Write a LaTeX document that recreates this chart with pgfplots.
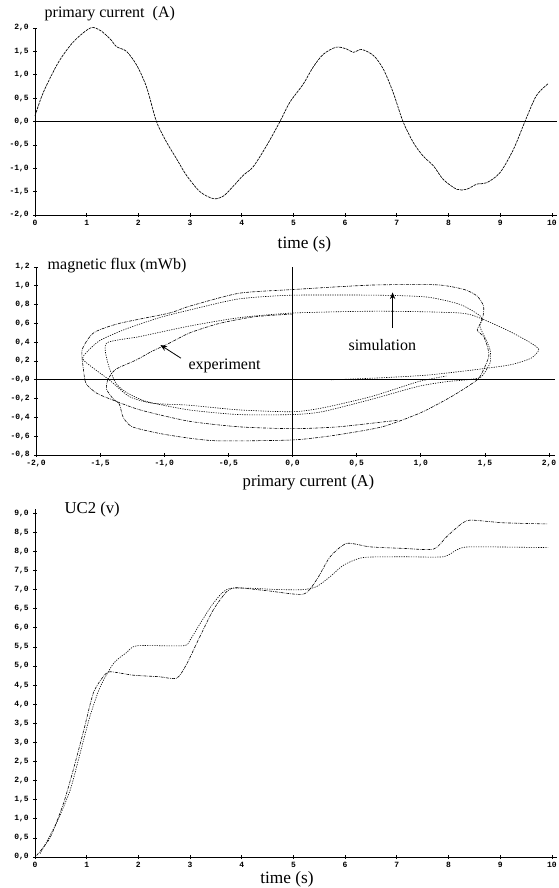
\documentclass[border=0pt]{standalone}
\usepackage{fontspec}
\setmainfont{Liberation Serif}
\setmonofont{Liberation Mono}
\usepackage{pgfplots}
\pgfplotsset{compat=1.18}
\usetikzlibrary{arrows.meta}

\pgfplotsset{
  panel/.style={
    scale only axis, width=391.5pt,
    axis x line*=bottom, axis y line*=left,
    axis line style={-, black, line width=0.6pt},
    tick align=center, major tick length=3pt,
    tick style={black, line width=0.5pt},
    ticklabel style={font=\ttfamily\bfseries\fontsize{6}{7}\selectfont, inner sep=1pt},
    xticklabel style={yshift=-1pt},
    yticklabel style={xshift=-2pt},
    clip=false,
  },
  zeroline/.style={extra y ticks={0}, extra y tick labels={},
    extra y tick style={grid=major, major grid style={black, line width=0.5pt}, major tick length=0pt}},
  expline/.style={black, line width=0.45pt, dash pattern=on 2.2pt off 0.8pt on 0.5pt off 0.8pt},
  simline/.style={black, line width=0.45pt, dash pattern=on 0.9pt off 0.9pt},
}

\begin{document}
\begin{tikzpicture}
\useasboundingbox (0,0) rectangle (418.5pt,666pt);

% --- primary current vs time
\begin{axis}[panel, zeroline,
  at={(26.25pt,504.75pt)}, anchor=south west, height=140.25pt,
  xmin=0, xmax=10.1, ymin=-2, ymax=2,
  xtick={0,1,...,10}, xticklabels={0,1,2,3,4,5,6,7,8,9,10},
  ytick={-2,-1.5,...,2},
  yticklabels={{-2,0},{-1,5},{-1,0},{-0,5},{0,0},{0,5},{1,0},{1,5},{2,0}},
]
\addplot[black, line width=0.5pt, dash pattern=on 2pt off 0.7pt, smooth, tension=0.5] table {
0    0.12
0.16 0.62
0.45 1.26
0.74 1.70
1.07 2.00
1.26 1.95
1.45 1.77
1.58 1.60
1.77 1.50
1.97 1.20
2.16 0.73
2.35 0
2.55 -0.45
2.74 -0.80
2.93 -1.15
3.19 -1.50
3.45 -1.65
3.64 -1.60
3.84 -1.38
4.03 -1.15
4.22 -0.97
4.48 -0.52
4.74 0
4.93 0.41
5.19 0.80
5.38 1.16
5.58 1.44
5.83 1.59
6.03 1.55
6.16 1.48
6.32 1.54
6.55 1.41
6.74 1.12
6.93 0.62
7.12 0
7.32 -0.45
7.51 -0.74
7.71 -0.95
7.90 -1.24
8.16 -1.45
8.35 -1.45
8.55 -1.34
8.74 -1.31
9.00 -1.09
9.26 -0.59
9.48 0
9.70 0.55
9.93 0.81
};
\end{axis}

% --- magnetic flux vs primary current
\begin{axis}[panel, zeroline,
  at={(27pt,324.75pt)}, anchor=south west, width=389.6pt, height=141pt,
  xmin=-2, xmax=2.05, ymin=-0.8, ymax=1.2,
  xtick={-2,-1.5,...,2},
  xticklabels={{-2,0},{-1,5},{-1,0},{-0,5},{0,0},{0,5},{1,0},{1,5},{2,0}},
  ytick={-0.8,-0.6,...,1.2},
  yticklabels={{-0,8},{-0,6},{-0,4},{-0,2},{-0,0},{0,2},{0,4},{0,6},{0,8},{1,0},{1,2}},
  extra x ticks={0}, extra x tick labels={},
  extra x tick style={grid=major, major grid style={black, line width=0.5pt}, major tick length=0pt},
]
\addplot[expline, smooth, tension=0.4] coordinates {
(0,0.70) (-0.3,0.67) (-0.57,0.60) (-0.8,0.50) (-0.96,0.39) (-1.1,0.30) (-1.22,0.21)
(-1.38,0.11) (-1.44,0.0) (-1.45,-0.1) (-1.40,-0.2) (-1.35,-0.26) (-1.32,-0.4) (-1.25,-0.5)
(-1.04,-0.57) (-0.81,-0.62) (-0.57,-0.65) (0,-0.64) (0.33,-0.59) (0.7,-0.5) (1.0,-0.35)
(1.25,-0.17) (1.44,0.0) (1.49,0.11) (1.53,0.25) (1.52,0.35) (1.49,0.46) (1.44,0.53)
(1.48,0.64) (1.49,0.78) (1.44,0.89) (1.34,0.96) (1.13,1.01) (0.67,1.01) (0.36,0.99)
(0,0.96) (-0.42,0.92) (-0.81,0.78) (-0.96,0.71) (-1.35,0.6) (-1.55,0.5) (-1.64,0.32)
(-1.63,0.11) (-1.61,-0.04) (-1.53,-0.14) (-1.43,-0.2) (-1.19,-0.32) (-0.81,-0.44)
(-0.42,-0.5) (0,-0.52) (0.36,-0.5) (0.82,-0.43)
};
\addplot[simline, smooth, tension=0.4] coordinates {
(0.3,0.0) (0.67,0.02) (1.05,0.05) (1.44,0.11) (1.70,0.16) (1.86,0.23) (1.92,0.32)
(1.86,0.39) (1.70,0.51) (1.49,0.64) (1.31,0.71) (0.67,0.73) (0,0.71) (-0.42,0.66)
(-0.81,0.57) (-1.19,0.46) (-1.45,0.39) (-1.44,0.18) (-1.38,-0.03) (-1.3,-0.13)
(-1.14,-0.23) (-0.81,-0.32) (-0.42,-0.37) (0,-0.37) (0.23,-0.34) (0.61,-0.21)
(0.98,-0.07) (1.2,-0.02) (1.36,0.0) (1.47,0.03) (1.54,0.18) (1.54,0.32) (1.50,0.45)
(1.46,0.57) (1.47,0.67) (1.31,0.8) (1.05,0.88) (0.67,0.9) (0,0.9) (-0.42,0.86)
(-0.81,0.74) (-1.04,0.66) (-1.3,0.54) (-1.5,0.42) (-1.6,0.3) (-1.63,0.21) (-1.43,0.0)
(-1.27,-0.18) (-1.09,-0.25) (-0.81,-0.27) (-0.42,-0.32) (0,-0.34) (0.23,-0.3)
(0.61,-0.18) (0.98,-0.02) (1.2,0.04)
};
\node[font=\fontsize{12}{14}\selectfont] at (axis cs:-0.53,0.15) {experiment};
\node[font=\fontsize{12}{14}\selectfont] at (axis cs:0.70,0.37) {simulation};
\draw[-{Stealth[length=5pt,width=4pt]}, line width=0.6pt] (axis cs:-0.87,0.23) -- (axis cs:-1.03,0.37);
\draw[-{Stealth[length=5pt,width=4pt]}, line width=0.6pt] (axis cs:0.78,0.55) -- (axis cs:0.78,0.93);
\end{axis}

% --- UC2 vs time
\begin{axis}[panel,
  at={(26.25pt,23.25pt)}, anchor=south west, height=260.7pt,
  xmin=0, xmax=10.1, ymin=0, ymax=9.1,
  xtick={0,1,...,10}, xticklabels={0,1,2,3,4,5,6,7,8,9,10},
  ytick={0,0.5,...,9},
  yticklabels={{0,0},{0,5},{1,0},{1,5},{2,0},{2,5},{3,0},{3,5},{4,0},{4,5},{5,0},{5,5},{6,0},{6,5},{7,0},{7,5},{8,0},{8,5},{9,0}},
]
\addplot[expline, smooth, tension=0.4] table {
0.03 0.04
0.29 0.50
0.55 1.40
0.74 2.28
0.94 3.30
1.13 4.30
1.32 4.72
1.45 4.85
1.90 4.76
2.40 4.72
2.74 4.68
2.93 5.04
3.19 5.77
3.45 6.47
3.71 6.95
3.90 7.05
4.50 6.97
5.19 6.88
5.45 7.26
5.71 7.86
6.03 8.21
6.48 8.12
7.12 8.08
7.71 8.06
7.96 8.38
8.22 8.69
8.42 8.82
9.06 8.75
9.93 8.72
};
\addplot[simline, smooth, tension=0.4] table {
0.10 0.09
0.42 0.90
0.68 1.75
0.87 2.70
1.06 3.67
1.26 4.45
1.52 5.07
1.77 5.35
1.97 5.53
2.87 5.53
3.00 5.68
3.19 6.10
3.45 6.64
3.77 7.03
4.74 7.00
5.19 7.00
5.45 7.08
5.71 7.34
5.97 7.64
6.35 7.84
7.12 7.86
7.90 7.86
8.16 8.04
8.42 8.12
9.93 8.10
};
\end{axis}

% titles and axis names
\node[anchor=base west, font=\fontsize{12}{14}\selectfont] at (30pt,652.5pt) {primary current\ \ (A)};
\node[anchor=base west, font=\fontsize{13}{15}\selectfont] at (204.75pt,479.25pt) {time (s)};
\node[anchor=base west, font=\fontsize{12}{14}\selectfont] at (32.25pt,463.5pt) {magnetic flux (mWb)};
\node[anchor=base west, font=\fontsize{12.5}{14}\selectfont] at (178.5pt,300.75pt) {primary current (A)};
\node[anchor=base west, font=\fontsize{12.5}{14}\selectfont] at (45pt,280.5pt) {UC2 (v)};
\node[anchor=base west, font=\fontsize{13}{15}\selectfont, inner sep=1pt] at (194pt,3.5pt) {time (s)};
\end{tikzpicture}
\end{document}
